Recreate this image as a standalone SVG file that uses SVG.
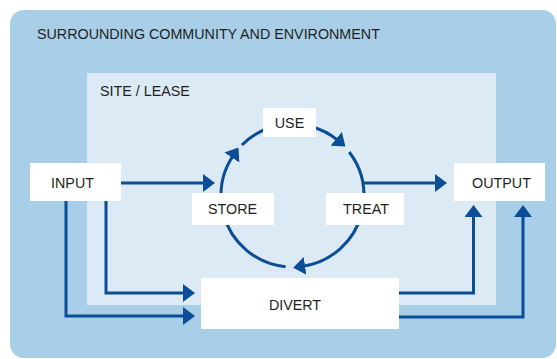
<svg xmlns="http://www.w3.org/2000/svg" width="557" height="359" viewBox="0 0 557 359">
<style>
.lbl{font-family:"Liberation Sans",Arial,sans-serif;font-size:14.3px;fill:#231f20;}
.mid{text-anchor:middle;}
.box{fill:#ffffff;}
.ln{fill:none;stroke:#0b4d96;stroke-width:3;marker-end:url(#ah);}
</style>
<defs>
<marker id="ah" viewBox="0 0 12 18" refX="2" refY="9" markerWidth="12" markerHeight="18" markerUnits="userSpaceOnUse" orient="auto">
<path d="M0,0 L12,9 L0,18 Z" fill="#0b4d96"/>
</marker>
</defs>
<g id="community">
<rect x="10" y="10" width="546" height="348" rx="14" fill="#a9cee8"/>
<text class="lbl" x="37" y="39">SURROUNDING COMMUNITY AND ENVIRONMENT</text>
</g>
<g id="site">
<rect x="87" y="73" width="409" height="232" fill="#dceaf6"/>
<text class="lbl" x="100" y="96">SITE / LEASE</text>
</g>
<g id="connectors">
<path class="ln" d="M121,183 H205"/>
<path class="ln" d="M363,183 H437"/>
<path class="ln" d="M106,201 V293 H185"/>
<path class="ln" d="M66,201 V316 H185"/>
<path class="ln" d="M399,293 H473.5 V215"/>
<path class="ln" d="M399,317 H523 V215"/>
<path class="ln" d="M221.27,201.73 A71.5,71.5 0 0 1 232.95,155.93"/>
<path class="ln" style="marker-end:none" d="M241.94,144.94 A71.5,71.5 0 0 1 273.99,126.44"/>
<path class="ln" d="M311,126.44 A71.5,71.5 0 0 1 337.69,140.1"/>
<path class="ln" style="marker-end:none" d="M349.2,151.97 A71.5,71.5 0 0 1 363.7,201.7"/>
<path class="ln" d="M361.6,214 A71.5,71.5 0 0 1 303.07,266.2"/>
<path class="ln" style="marker-end:none" d="M285.6,266.7 A71.5,71.5 0 0 1 223.4,214"/>
</g>
<g id="input">
<rect class="box" x="30" y="163" width="91" height="38"/>
<text class="lbl mid" x="72.5" y="188">INPUT</text>
</g>
<g id="use">
<rect class="box" x="263" y="108" width="53" height="29"/>
<text class="lbl mid" x="289.5" y="128">USE</text>
</g>
<g id="store">
<rect class="box" x="192" y="193" width="82" height="32"/>
<text class="lbl mid" x="232.5" y="214">STORE</text>
</g>
<g id="treat">
<rect class="box" x="326" y="193" width="78" height="32"/>
<text class="lbl mid" x="366" y="214">TREAT</text>
</g>
<g id="output">
<rect class="box" x="454" y="163" width="91" height="38"/>
<text class="lbl mid" x="501.5" y="188">OUTPUT</text>
</g>
<g id="divert">
<rect class="box" x="201" y="278" width="198" height="51"/>
<text class="lbl mid" x="295" y="310">DIVERT</text>
</g>
</svg>
